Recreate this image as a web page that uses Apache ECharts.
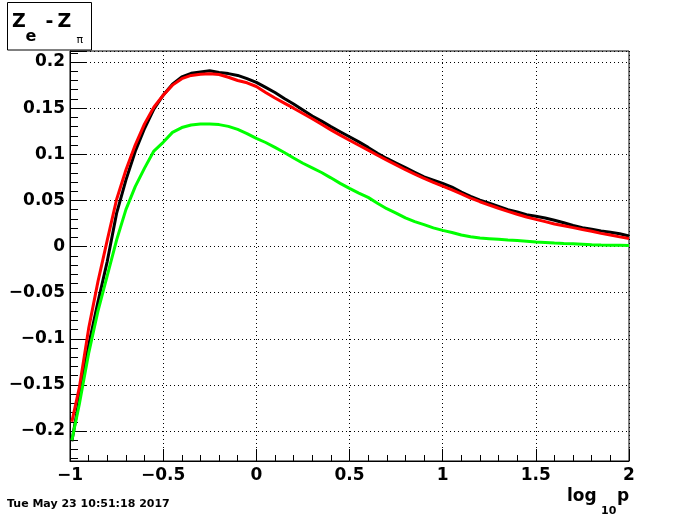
<!DOCTYPE html>
<html><head><meta charset="utf-8">
<script src="https://cdn.jsdelivr.net/npm/echarts@6/dist/echarts.min.js"></script>
<style>html,body{margin:0;padding:0;background:#fff}#c{width:700px;height:514px}</style>
</head><body><div id="c"></div>
<script>
const xValues = [-0.99,-0.95,-0.9,-0.85,-0.8,-0.75,-0.7,-0.65,-0.6,-0.55,-0.5,-0.45,-0.4,-0.35,-0.3,-0.25,-0.2,-0.15,-0.1,-0.05,
  0,0.05,0.1,0.15,0.2,0.25,0.3,0.35,0.4,0.45,0.5,0.55,0.6,0.65,0.7,0.75,0.8,0.85,0.9,0.95,
  1,1.05,1.1,1.15,1.2,1.25,1.3,1.35,1.4,1.45,1.5,1.55,1.6,1.65,1.7,1.75,1.8,1.85,1.9,1.95,2];
const blackValues = [-0.211,-0.165,-0.107,-0.060,-0.016,0.036,0.072,0.103,0.128,0.149,0.164,0.176,0.184,0.1878,0.1893,0.1905,0.1888,0.1875,0.1855,0.182,
  0.178,0.1725,0.167,0.1605,0.1545,0.148,0.1415,0.136,0.130,0.1245,0.119,0.1135,0.1075,0.101,0.0955,0.0905,0.0855,0.0805,0.0755,0.072,
  0.0685,0.0645,0.059,0.0545,0.0504,0.047,0.0435,0.040,0.0375,0.0345,0.0328,0.031,0.0285,0.0258,0.0228,0.0205,0.0188,0.017,0.0155,0.0138,0.0115];
const redValues = [-0.190,-0.153,-0.089,-0.038,0.007,0.051,0.083,0.110,0.133,0.151,0.164,0.175,0.182,0.1855,0.1868,0.1873,0.1865,0.1835,0.180,0.1775,
  0.1735,0.167,0.161,0.1555,0.150,0.1442,0.1385,0.1325,0.1265,0.1208,0.1153,0.1098,0.1045,0.099,0.0937,0.0885,0.0833,0.0785,0.0738,0.0695,
  0.0655,0.0615,0.057,0.0525,0.0486,0.045,0.0415,0.0382,0.035,0.032,0.0295,0.027,0.0245,0.0225,0.0205,0.0185,0.0165,0.0143,0.0125,0.0105,0.0088];
const greenValues = [-0.210,-0.171,-0.116,-0.070,-0.0315,0.007,0.040,0.065,0.085,0.1035,0.113,0.1238,0.129,0.1318,0.1328,0.1328,0.1322,0.1303,0.127,0.1225,
  0.1173,0.1128,0.1075,0.102,0.096,0.0903,0.0853,0.0803,0.0745,0.0685,0.063,0.058,0.0533,0.047,0.041,0.0362,0.031,0.027,0.0238,0.0203,
  0.0175,0.0153,0.0125,0.0107,0.0092,0.0085,0.0078,0.007,0.0065,0.0058,0.005,0.0045,0.0038,0.0033,0.003,0.0025,0.0019,0.0016,0.0014,0.0013,0.0012];
const xRange = [-1, 2];
const yRange = [-0.2325, 0.212];
const dateText = 'Tue May 23 10:51:18 2017';

const FONT = 'DejaVu Sans';
function fmt(v){ const s = String(Math.abs(+v.toFixed(4))); return (v < 0 ? '\u2212' : '') + s; }
function zip(ys){ return xValues.map((x,i)=>[x, ys[i]]); }
const gridLine = {show:true, lineStyle:{color:'#000', width:1, type:[1,3]}};

const chart = echarts.init(document.getElementById('c'), null, {renderer:'canvas'});
chart.setOption({
  animation:false,
  backgroundColor:'#fff',
  grid:{left:70, right:71, top:51, bottom:53, show:true, borderColor:'#000', borderWidth:1, backgroundColor:'transparent'},
  xAxis:{type:'value', min:xRange[0], max:xRange[1], interval:0.5,
    axisLine:{onZero:false, lineStyle:{color:'#000', width:1}},
    axisTick:{inside:true, length:12, lineStyle:{color:'#000', width:1}},
    minorTick:{show:true, splitNumber:5, length:6, lineStyle:{color:'#000', width:1}},
    splitLine:gridLine,
    axisLabel:{formatter:fmt, color:'#000', fontFamily:FONT, fontWeight:'bold', fontSize:17, margin:6, showMinLabel:true, showMaxLabel:true}
  },
  yAxis:{type:'value', min:yRange[0], max:yRange[1], splitNumber:9,
    axisLine:{show:true, onZero:false, lineStyle:{color:'#000', width:1}},
    axisTick:{show:true, inside:true, length:16, lineStyle:{color:'#000', width:1}},
    minorTick:{show:true, splitNumber:5, length:8, lineStyle:{color:'#000', width:1}},
    splitLine:gridLine,
    axisLabel:{formatter:fmt, color:'#000', fontFamily:FONT, fontWeight:'bold', fontSize:17, margin:5, showMinLabel:false, showMaxLabel:false}
  },
  series:[
    {type:'line', data:zip(blackValues), showSymbol:false, lineStyle:{color:'#000', width:3}, itemStyle:{color:'#000'}},
    {type:'line', data:zip(redValues), showSymbol:false, lineStyle:{color:'#ff0000', width:3}, itemStyle:{color:'#ff0000'}},
    {type:'line', data:zip(greenValues), showSymbol:false, lineStyle:{color:'#00ff00', width:3}, itemStyle:{color:'#00ff00'}}
  ],
  graphic:[
    {type:'rect', shape:{x:7.5, y:2.5, width:84, height:47.5}, style:{fill:'#fff', stroke:'#000', lineWidth:1}},
    {type:'text', x:12, y:22.5, style:{text:'Z', font:'bold 19px "DejaVu Sans"', fill:'#000', align:'left', verticalAlign:'middle'}},
    {type:'text', x:25.5, y:36.5, style:{text:'e', font:'bold 16px "DejaVu Sans"', fill:'#000', align:'left', verticalAlign:'middle'}},
    {type:'text', x:45.5, y:22, style:{text:'-', font:'bold 19px "DejaVu Sans"', fill:'#000', align:'left', verticalAlign:'middle'}},
    {type:'text', x:57.5, y:22.5, style:{text:'Z', font:'bold 19px "DejaVu Sans"', fill:'#000', align:'left', verticalAlign:'middle'}},
    {type:'text', x:76.5, y:40, style:{text:'\u03c0', font:'11px "DejaVu Sans"', fill:'#000', align:'left', verticalAlign:'middle'}},
    {type:'text', x:567, y:497, style:{text:'log', font:'bold 17px "DejaVu Sans"', fill:'#000', align:'left', verticalAlign:'middle'}},
    {type:'text', x:601, y:511.5, style:{text:'10', font:'bold 11px "DejaVu Sans"', fill:'#000', align:'left', verticalAlign:'middle'}},
    {type:'text', x:617, y:497, style:{text:'p', font:'bold 17px "DejaVu Sans"', fill:'#000', align:'left', verticalAlign:'middle'}},
    {type:'text', x:7, y:504.5, style:{text:dateText, font:'bold 11px "DejaVu Sans"', fill:'#000', align:'left', verticalAlign:'middle'}}
  ]
});
</script></body></html>
